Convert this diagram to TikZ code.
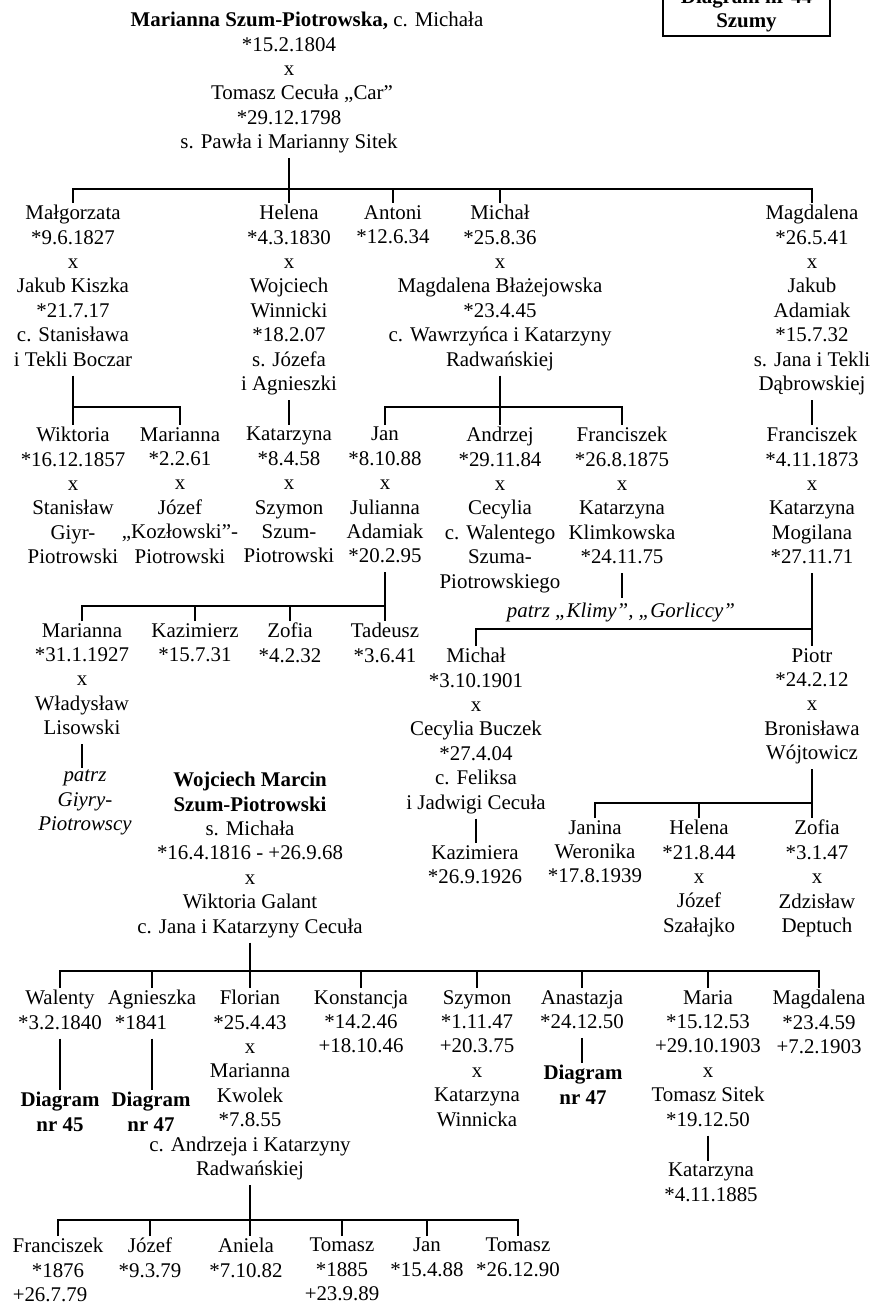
\documentclass[tikz,border=0pt]{standalone}
\usepackage{fontspec}
\setmainfont{Liberation Serif}
\tikzset{
    person/.style={align=center, anchor=north, inner sep=2pt,
        font=\fontsize{20.9}{24.4}\selectfont,
        execute at begin node=\strut, execute at end node=\strut},
    seenote/.style={person, font=\fontsize{20.9}{24.4}\selectfont\itshape},
    diagref/.style={person, font=\fontsize{20.9}{24.4}\selectfont\bfseries},
    titlebox/.style={diagref, draw, line width=1.8pt, inner xsep=0pt, inner ysep=1.5pt, minimum width=167pt},
    link/.style={line width=1.8pt},
}
\begin{document}
\begin{tikzpicture}[x=1pt, y=-1pt]
    \useasboundingbox (0,0) rectangle (870,1305);

    % Title box
    \node[titlebox] (title) at (746.5,-13.8) {Diagram nr 44\\Szumy};

    % First couple
    \node[person] (top) at (289,10) {\hspace*{36pt}\textbf{Marianna Szum-Piotrowska,} c. Michała\\{}*15.2.1804\\x\\\hspace*{26pt}Tomasz Cecuła „Car”\\{}*29.12.1798\\s. Pawła i Marianny Sitek};

    % Their children
    \node[person] (malg) at (73,203) {Małgorzata\\{}*9.6.1827\\x\\Jakub Kiszka\\{}*21.7.17\\c. Stanisława\\i Tekli Boczar};
    \node[person] (hel1) at (289,203) {Helena\\{}*4.3.1830\\x\\Wojciech\\Winnicki\\{}*18.2.07\\s. Józefa\\i Agnieszki};
    \node[person] (antoni) at (393,203) {Antoni\\{}*12.6.34};
    \node[person] (mich1) at (500,203) {Michał\\{}*25.8.36\\x\\Magdalena Błażejowska\\{}*23.4.45\\c. Wawrzyńca i Katarzyny\\Radwańskiej};
    \node[person] (magd1) at (812,203) {Magdalena\\{}*26.5.41\\x\\Jakub\\Adamiak\\{}*15.7.32\\s. Jana i Tekli\\Dąbrowskiej};

    % Grandchildren
    \node[person] (wikt) at (73,425) {Wiktoria\\{}*16.12.1857\\x\\Stanisław\\Giyr-\\Piotrowski};
    \node[person] (mar1) at (180,425) {Marianna\\{}*2.2.61\\x\\Józef\\„Kozłowski”-\\Piotrowski};
    \node[person] (kat1) at (289,425) {Katarzyna\\{}*8.4.58\\x\\Szymon\\Szum-\\Piotrowski};
    \node[person] (jan1) at (385,425) {Jan\\{}*8.10.88\\x\\Julianna\\Adamiak\\{}*20.2.95};
    \node[person] (andrzej) at (500,425) {Andrzej\\{}*29.11.84\\x\\Cecylia\\c. Walentego\\Szuma-\\Piotrowskiego};
    \node[person] (fran1) at (622,425) {Franciszek\\{}*26.8.1875\\x\\Katarzyna\\Klimkowska\\{}*24.11.75};
    \node[person] (fran2) at (812,425) {Franciszek\\{}*4.11.1873\\x\\Katarzyna\\Mogilana\\{}*27.11.71};

    % Children of Jan
    \node[person] (mar2) at (82,621) {Marianna\\{}*31.1.1927\\x\\Władysław\\Lisowski};
    \node[person] (kaz) at (195,621) {Kazimierz\\{}*15.7.31};
    \node[person] (zof1) at (290,621) {Zofia\\{}*4.2.32};
    \node[person] (tad) at (385,621) {Tadeusz\\{}*3.6.41};
    \node[seenote] (giyry) at (85,768) {patrz\\Giyry-\\Piotrowscy};
    \node[seenote] (klimy) at (621,598) {patrz „Klimy”, „Gorliccy”};

    % Children of Franciszek and Katarzyna Mogilana
    \node[person] (mich2) at (476,646) {Michał\\{}*3.10.1901\\x\\Cecylia Buczek\\{}*27.4.04\\c. Feliksa\\i Jadwigi Cecuła};
    \node[person] (piotr) at (812,646) {Piotr\\{}*24.2.12\\x\\Bronisława\\Wójtowicz};
    \node[person] (kazra) at (475,843) {Kazimiera\\{}*26.9.1926};
    \node[person] (janina) at (595,818) {Janina\\Weronika\\{}*17.8.1939};
    \node[person] (hel2) at (699,818) {Helena\\{}*21.8.44\\x\\Józef\\Szałajko};
    \node[person] (zof2) at (817,818) {Zofia\\{}*3.1.47\\x\\Zdzisław\\Deptuch};

    % Second couple
    \node[person] (woj) at (250,770) {\textbf{Wojciech Marcin}\\\textbf{Szum-Piotrowski}\\s. Michała\\{}*16.4.1816 - +26.9.68\\x\\Wiktoria Galant\\c. Jana i Katarzyny Cecuła};

    \node[person] (walenty) at (60,988) {Walenty\\{}*3.2.1840};
    \node[person] (agn) at (152,988) {Agnieszka\\{}*1841\hspace*{22pt}};
    \node[person] (flor) at (250,988) {Florian\\{}*25.4.43\\x\\Marianna\\Kwolek\\{}*7.8.55\\c. Andrzeja i Katarzyny\\Radwańskiej};
    \node[person] (konst) at (361,988) {Konstancja\\{}*14.2.46\\+18.10.46};
    \node[person] (szymon) at (477,988) {Szymon\\{}*1.11.47\\+20.3.75\\x\\Katarzyna\\Winnicka};
    \node[person] (anast) at (582,988) {Anastazja\\{}*24.12.50};
    \node[person] (maria) at (708,988) {Maria\\{}*15.12.53\\+29.10.1903\\x\\Tomasz Sitek\\{}*19.12.50};
    \node[person] (magd2) at (819,988) {Magdalena\\{}*23.4.59\\+7.2.1903};

    \node[diagref] (d45) at (60,1090) {Diagram\\nr 45};
    \node[diagref] (d47a) at (151,1090) {Diagram\\nr 47};
    \node[diagref] (d47b) at (583,1063) {Diagram\\nr 47};
    \node[person] (kat2) at (711,1161) {Katarzyna\\{}*4.11.1885};

    % Children of Florian
    \node[person] (fr3) at (58,1236) {Franciszek\\{}*1876\hspace*{16pt}\\+26.7.79\hspace*{16pt}};
    \node[person] (jozef) at (150,1236) {Józef\\{}*9.3.79};
    \node[person] (aniela) at (246,1236) {Aniela\\{}*7.10.82};
    \node[person] (tom1) at (342,1236) {Tomasz\\{}*1885\\+23.9.89};
    \node[person] (jan2) at (427,1236) {Jan\\{}*15.4.88};
    \node[person] (tom2) at (518,1236) {Tomasz\\{}*26.12.90};

    % Bars of the families
    \coordinate (b0) at (289,189);
    \coordinate (b1) at (73,407);
    \coordinate (b2) at (500,407);
    \coordinate (b3) at (385,606);
    \coordinate (b4) at (812,629);
    \coordinate (b5) at (812,803);
    \coordinate (b6) at (250,971);
    \coordinate (b7) at (250,1220);

    % Lines of the first couple
    \draw[link] (top.south) -- (hel1.north);
    \draw[link] (malg.north) |- (magd1.north |- b0) -- (magd1.north);
    \draw[link] (antoni.north) -- (antoni.north |- b0);
    \draw[link] (mich1.north) -- (mich1.north |- b0);

    \draw[link] (malg.south) -- (wikt.north);
    \draw[link] (b1) -| (mar1.north);
    \draw[link] (hel1.south) -- (kat1.north);
    \draw[link] (mich1.south) -- (andrzej.north);
    \draw[link] (jan1.north) |- (b2) -| (fran1.north);
    \draw[link] (magd1.south) -- (fran2.north);

    \draw[link] (jan1.south) -- (tad.north);
    \draw[link] (mar2.north) |- (b3);
    \draw[link] (kaz.north) -- (kaz.north |- b3);
    \draw[link] (zof1.north) -- (zof1.north |- b3);
    \draw[link] (mar2.south) -- (mar2.south |- giyry.north);
    \draw[link] (fran1.south) -- (fran1.south |- klimy.north);

    \draw[link] (fran2.south) -- (piotr.north);
    \draw[link] (mich2.north) |- (b4);
    \draw[link] (mich2.south) -- (mich2.south |- kazra.north);
    \draw[link] (piotr.south) -- (piotr.south |- zof2.north);
    \draw[link] (janina.north) |- (b5);
    \draw[link] (hel2.north) -- (hel2.north |- b5);

    % Lines of the second couple
    \draw[link] (woj.south) -- (flor.north);
    \draw[link] (walenty.north) |- (magd2.north |- b6) -- (magd2.north);
    \draw[link] (agn.north) -- (agn.north |- b6);
    \draw[link] (konst.north) -- (konst.north |- b6);
    \draw[link] (szymon.north) -- (szymon.north |- b6);
    \draw[link] (anast.north) -- (anast.north |- b6);
    \draw[link] (maria.north) -- (maria.north |- b6);

    \draw[link] (walenty.south) -- (walenty.south |- d45.north);
    \draw[link] (agn.south) -- (agn.south |- d47a.north);
    \draw[link] (anast.south) -- (anast.south |- d47b.north);
    \draw[link] (maria.south) -- (maria.south |- kat2.north);

    \draw[link] (flor.south) -- (flor.south |- aniela.north);
    \draw[link] (fr3.north) |- (tom2.north |- b7) -- (tom2.north);
    \draw[link] (jozef.north) -- (jozef.north |- b7);
    \draw[link] (tom1.north) -- (tom1.north |- b7);
    \draw[link] (jan2.north) -- (jan2.north |- b7);
\end{tikzpicture}
\end{document}
